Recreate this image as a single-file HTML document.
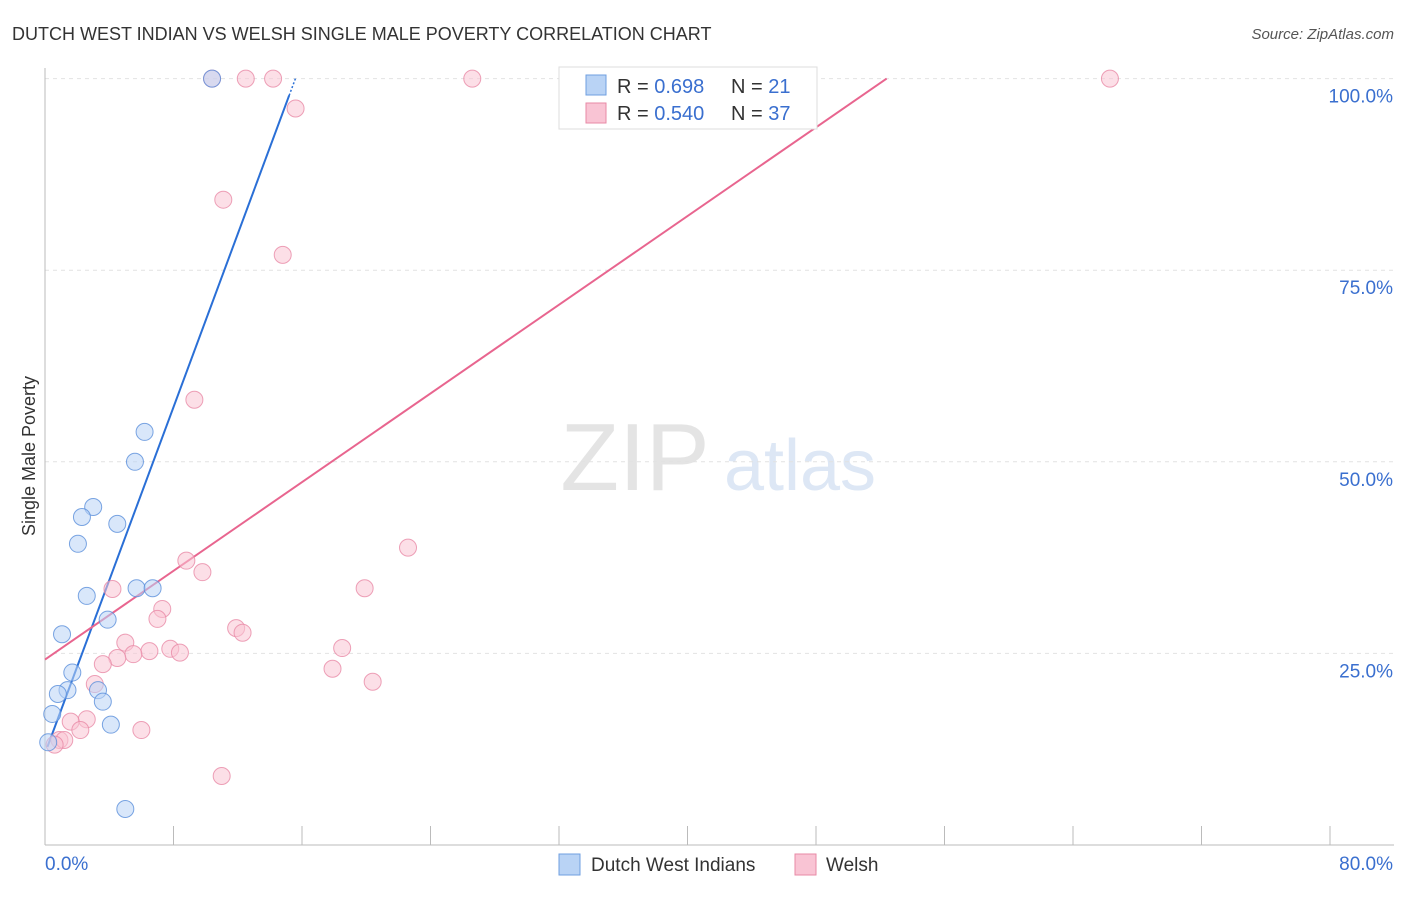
<!DOCTYPE html>
<html><head><meta charset="utf-8"><style>
body{margin:0;background:#fff;font-family:"Liberation Sans",sans-serif;}
svg text{font-family:"Liberation Sans",sans-serif;}
</style></head><body>
<svg id="c" width="1406" height="892" xmlns="http://www.w3.org/2000/svg">
<text x="12" y="40" font-size="18" fill="#333">DUTCH WEST INDIAN VS WELSH SINGLE MALE POVERTY CORRELATION CHART</text>
<text x="1394" y="39" font-size="15" fill="#555" font-style="italic" text-anchor="end">Source: ZipAtlas.com</text>
<text x="35" y="456" font-size="18" fill="#333" text-anchor="middle" transform="rotate(-90 35 456)">Single Male Poverty</text>
<g><text x="635" y="490" font-size="96" fill="#e4e4e4" font-family="Liberation Serif" text-anchor="middle">ZIP</text><text x="800" y="490" font-size="72" fill="#dde7f5" text-anchor="middle">atlas</text></g>
<g id="grid"></g><g id="axes"></g><g id="lines"></g><g id="pts"></g>
<g>
<rect x="559" y="67" width="258" height="62" fill="#fff" stroke="#ddd"/>
<rect x="586" y="75" width="20" height="20" fill="#b9d3f5" stroke="#6f9fe0"/>
<rect x="586" y="103" width="20" height="20" fill="#f9c4d4" stroke="#e88aa6"/>
<text x="617" y="93" font-size="20" fill="#333">R = <tspan fill="#3a6fcf">0.698</tspan></text>
<text x="731" y="93" font-size="20" fill="#333">N = <tspan fill="#3a6fcf"> 21</tspan></text>
<text x="617" y="120" font-size="20" fill="#333">R = <tspan fill="#3a6fcf">0.540</tspan></text>
<text x="731" y="120" font-size="20" fill="#333">N = <tspan fill="#3a6fcf">37</tspan></text>
</g>
<g>
<rect x="559" y="854" width="21" height="21" fill="#b9d3f5" stroke="#6f9fe0"/>
<text x="591" y="871" font-size="19" fill="#333">Dutch West Indians</text>
<rect x="795" y="854" width="21" height="21" fill="#f9c4d4" stroke="#e88aa6"/>
<text x="826" y="871" font-size="19" fill="#333">Welsh</text>
</g>
</svg>
<script>
const blueX=[10.4,6.2,5.6,3.0,2.3,4.5,2.05,5.7,6.7,2.6,3.9,1.06,1.7,1.4,3.3,0.8,3.6,0.45,4.1,0.2,5.0];
const blueY=[100,53.9,50,44.1,42.8,41.9,39.3,33.5,33.5,32.5,29.4,27.5,22.5,20.2,20.2,19.7,18.7,17.1,15.7,13.4,4.7];
const pinkX=[10.4,12.5,14.2,26.6,66.3,15.6,11.1,14.8,9.3,22.6,8.8,9.8,19.9,4.2,7.3,7.0,11.9,12.3,5.0,18.5,6.5,7.8,8.4,5.5,4.5,3.6,17.9,20.4,3.1,2.6,1.6,2.2,6.0,0.9,1.2,0.6,11.0];
const pinkY=[100,100,100,100,100,96.1,84.2,77.0,58.1,38.8,37.1,35.6,33.5,33.4,30.8,29.5,28.3,27.7,26.4,25.7,25.3,25.6,25.1,24.9,24.4,23.6,23.0,21.3,21.0,16.4,16.1,15.0,15.0,13.7,13.7,13.1,9.0];
const blueLine=[0.15,12.8,15.2,97.8];
const pinkLine=[0,24.2,52.4,100];
const yTicks=[25,50,75,100];
const yTickLabels=["25.0%","50.0%","75.0%","100.0%"];
const xTicks=[0,8,16,24,32,40,48,56,64,72,80];
const NS="http://www.w3.org/2000/svg";
const X=v=>45+v*16.0625, Y=v=>845-v*7.664;
function mk(tag,attrs,parent){const e=document.createElementNS(NS,tag);for(const k in attrs)e.setAttribute(k,attrs[k]);document.getElementById(parent).appendChild(e);return e;}
yTicks.forEach((t,i)=>{
 const g=mk('line',{x1:45,x2:1394,y1:Y(t),y2:Y(t),stroke:'#e2e2e2','stroke-dasharray':'4,4'},'grid');
 
 
 const l=mk('text',{x:1393,y:Y(t)+24,'font-size':19,fill:'#3a6fcf','text-anchor':'end'},'grid');l.textContent=yTickLabels[i];
 
 
});
let a=mk('line',{x1:45,x2:1394,y1:845,y2:845,stroke:'#bbb'},'axes');


a=mk('line',{x1:45,x2:45,y1:68,y2:845,stroke:'#bbb'},'axes');


xTicks.forEach(t=>{const e=mk('line',{x1:X(t),x2:X(t),y1:826,y2:845,stroke:'#bbb'},'axes');
 
 });
let t=mk('text',{x:45,y:870,'font-size':19,fill:'#3a6fcf'},'axes');t.textContent='0.0%';


t=mk('text',{x:1393,y:870,'font-size':19,fill:'#3a6fcf','text-anchor':'end'},'axes');t.textContent='80.0%';


function pts(xs,ys,fill,stroke,name){xs.forEach((x,i)=>{const c=mk('circle',{cx:X(x),cy:Y(ys[i]),r:8.5,fill:fill,'fill-opacity':0.55,stroke:stroke,'stroke-opacity':0.8,'stroke-width':1},'pts');
 
 });}
pts(pinkX,pinkY,'#f9c4d4','#e88aa6','welsh-point');
pts(blueX,blueY,'#b9d3f5','#5a8fdb','dutch-west-indian-point');
let ln=mk('line',{x1:X(blueLine[0]),y1:Y(blueLine[1]),x2:X(blueLine[2]),y2:Y(blueLine[3]),stroke:'#2a6fd6','stroke-width':2},'lines');


const sl=(blueLine[3]-blueLine[1])/(blueLine[2]-blueLine[0]);
ln=mk('line',{x1:X(blueLine[2]),y1:Y(blueLine[3]),x2:X(blueLine[2]+(100-blueLine[3])/sl),y2:Y(100),stroke:'#2a6fd6','stroke-width':1.5,'stroke-dasharray':'2,2'},'lines');


ln=mk('line',{x1:X(pinkLine[0]),y1:Y(pinkLine[1]),x2:X(pinkLine[2]),y2:Y(pinkLine[3]),stroke:'#e8658f','stroke-width':2},'lines');


</script>
</body></html>
